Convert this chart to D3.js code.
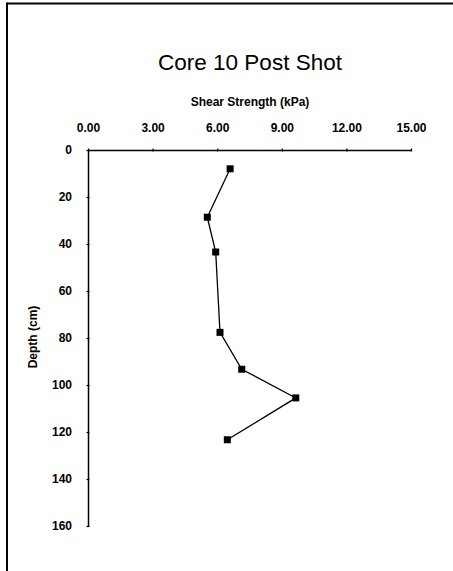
<!DOCTYPE html>
<html><head><meta charset="utf-8">
<script src="https://cdn.jsdelivr.net/npm/d3@7"></script>
<style>body{margin:0;background:#fff}svg{display:block}</style>
</head><body>
<script>
const title = "Core 10 Post Shot";
const xTitle = "Shear Strength (kPa)";
const yTitle = "Depth (cm)";
const xTicks = [0, 3, 6, 9, 12, 15];
const yTicks = [0, 20, 40, 60, 80, 100, 120, 140, 160];
const shear = [6.6, 5.54, 5.93, 6.13, 7.14, 9.65, 6.47];
const depth = [8, 28.6, 43.4, 77.6, 93.3, 105.5, 123.3];

const W = 453, H = 571;
const svg = d3.select("body").append("svg").attr("width", W).attr("height", H);
const font = "Arial, 'Liberation Sans', sans-serif";

// frame (top and left)
svg.append("line").attr("x1", 7).attr("x2", W).attr("y1", 3.5).attr("y2", 3.5).attr("stroke", "#000").attr("stroke-width", 2);
svg.append("line").attr("x1", 7).attr("x2", 7).attr("y1", 2.5).attr("y2", H).attr("stroke", "#000").attr("stroke-width", 2);

const x = d3.scaleLinear().domain([0, 15]).range([88, 411]);
const y = d3.scaleLinear().domain([0, 160]).range([150, 526]);

svg.append("text").attr("x", 250).attr("y", 70).attr("text-anchor", "middle")
  .attr("font-family", font).attr("font-size", 22.5).text(title);
svg.append("text").attr("x", 250).attr("y", 106).attr("text-anchor", "middle")
  .attr("font-family", font).attr("font-size", 12).attr("font-weight", "bold").text(xTitle);

const xa = svg.append("g").attr("transform", "translate(0,150)")
  .call(d3.axisTop(x).tickValues(xTicks).tickFormat(d3.format(".2f")).tickSize(3).tickSizeOuter(0).tickPadding(15));
const ya = svg.append("g").attr("transform", "translate(88,0)")
  .call(d3.axisLeft(y).tickValues(yTicks).tickSize(3).tickSizeOuter(0).tickPadding(13));
[xa, ya].forEach(a => {
  a.select(".domain").attr("stroke", "#000").attr("stroke-width", 1.5);
  a.selectAll(".tick line").attr("stroke", "#000").attr("stroke-width", 1.2);
  a.selectAll("text").attr("font-family", font).attr("font-size", 12).attr("font-weight", "bold").attr("fill", "#000");
});
xa.selectAll(".tick line").attr("y1", 1.5).attr("y2", -1.5);
ya.selectAll(".tick line").attr("x1", 1.5).attr("x2", -1.5);

svg.append("text").attr("transform", "translate(37,337) rotate(-90)").attr("text-anchor", "middle")
  .attr("font-family", font).attr("font-size", 12).attr("font-weight", "bold").text(yTitle);

const pts = shear.map((s, i) => [s, depth[i]]);
svg.append("path").datum(pts)
  .attr("d", d3.line().x(d => x(d[0])).y(d => y(d[1])))
  .attr("fill", "none").attr("stroke", "#000").attr("stroke-width", 1.3);
svg.selectAll("rect.pt").data(pts).enter().append("rect").attr("class", "pt")
  .attr("x", d => x(d[0]) - 3.5).attr("y", d => y(d[1]) - 3.5)
  .attr("width", 7).attr("height", 7).attr("fill", "#000");
</script>
</body></html>
